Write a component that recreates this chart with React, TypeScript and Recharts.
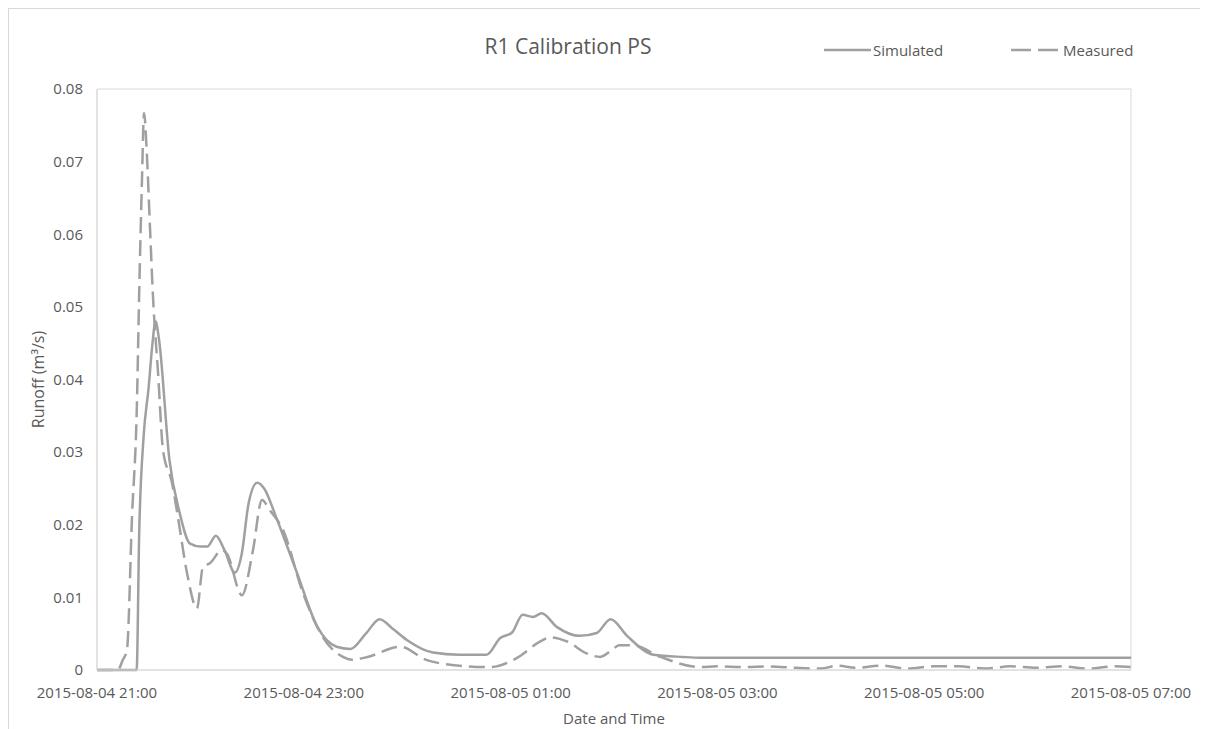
import { Line, LineChart, ReferenceArea, XAxis, YAxis } from "recharts";

// minutes since 2015-08-04 21:00
const xTicks = [0, 120, 240, 360, 480, 600];
const xTickLabels = [
  "2015-08-04 21:00",
  "2015-08-04 23:00",
  "2015-08-05 01:00",
  "2015-08-05 03:00",
  "2015-08-05 05:00",
  "2015-08-05 07:00",
];
const yTicks = [0, 0.01, 0.02, 0.03, 0.04, 0.05, 0.06, 0.07, 0.08];

const simulatedMinutes = [
  0, 23, 24.5, 27, 30, 32, 34, 36, 42, 48, 54, 60, 64, 69, 74, 80, 84, 88, 93,
  97, 104, 116, 128, 139, 147, 156, 164, 172, 180, 195, 210, 226, 234, 241,
  247, 253, 258, 267, 280, 290, 298, 308, 323, 340, 350, 600,
];
const simulatedRunoff = [
  0, 0, 0.019, 0.032, 0.039, 0.0445, 0.048, 0.0455, 0.029, 0.0216, 0.0174,
  0.017, 0.017, 0.0185, 0.0165, 0.0134, 0.016, 0.023, 0.0258, 0.025, 0.021,
  0.0134, 0.0059, 0.0032, 0.0029, 0.005, 0.007, 0.0056, 0.0041, 0.0024,
  0.0021, 0.0021, 0.0044, 0.0052, 0.0076, 0.0073, 0.0078, 0.0059, 0.0047,
  0.0051, 0.007, 0.0046, 0.0021, 0.0018, 0.0017, 0.0017,
];

const measuredMinutes = [
  0, 12, 15, 17.4, 20.3, 23.2, 24.4, 26.1, 27.3, 29, 30.8, 32.5, 35.4, 38.3,
  43.5, 47, 52.2, 58, 61.5, 65.5, 72.5, 75.4, 84.1, 90.5, 95.7, 100.3, 107.9,
  119.5, 131.1, 142.7, 148, 157, 176, 191, 206, 228, 244, 257, 263, 273, 284,
  292, 299, 303, 311, 327, 350, 360, 375, 390, 405, 420, 430, 440, 455, 470,
  485, 500, 515, 530, 545, 560, 575, 590, 600,
];
const measuredRunoff = [
  0, 0, 0.0014, 0.0028, 0.021, 0.037, 0.051, 0.0675, 0.0767, 0.0707, 0.0606,
  0.0514, 0.041, 0.0303, 0.0258, 0.021, 0.0134, 0.0085, 0.0142, 0.0147,
  0.0165, 0.016, 0.0103, 0.0165, 0.0234, 0.022, 0.0193, 0.0106, 0.0045,
  0.0018, 0.0014, 0.0018, 0.0032, 0.0014, 0.0007, 0.0004, 0.0017, 0.0039,
  0.0045, 0.0039, 0.0023, 0.0018, 0.0028, 0.0034, 0.0034, 0.0018, 0.0004,
  0.0005, 0.0004, 0.0005, 0.0003, 0.0002, 0.0006, 0.0003, 0.0006, 0.0002,
  0.0005, 0.0005, 0.0002, 0.0005, 0.0003, 0.0005, 0.0002, 0.0005, 0.0004,
];

const simulatedData = simulatedMinutes.map((t, i) => ({
  t,
  value: simulatedRunoff[i],
}));
const measuredData = measuredMinutes.map((t, i) => ({
  t,
  value: measuredRunoff[i],
}));

const FONT = '"Open Sans", sans-serif';
const TEXT = "#595959";
const LINE = "#a0a0a0";

function LegendItem({
  left,
  label,
  dashed,
}: {
  left: number;
  label: string;
  dashed?: boolean;
}) {
  return (
    <div
      style={{
        position: "absolute",
        left,
        top: 31,
        height: 20,
        display: "flex",
        alignItems: "center",
        fontFamily: FONT,
        fontSize: 15,
        color: TEXT,
        whiteSpace: "nowrap",
      }}
    >
      <svg width={47} height={6}>
        <line
          x1={0}
          y1={3}
          x2={47}
          y2={3}
          stroke={LINE}
          strokeWidth={2.5}
          strokeDasharray={dashed ? "20 7" : undefined}
        />
      </svg>
      <span style={{ marginLeft: dashed ? 5 : 2 }}>{label}</span>
    </div>
  );
}

export default function App() {
  return (
    <div
      style={{
        position: "relative",
        width: 1200,
        height: 740,
        border: "1px solid #d9d9d9",
        boxSizing: "border-box",
        background: "#fff",
      }}
    >
      <div
        style={{
          position: "absolute",
          left: 359,
          width: 400,
          top: 27,
          textAlign: "center",
          fontFamily: FONT,
          fontSize: 21,
          lineHeight: 1,
          color: TEXT,
        }}
      >
        R1 Calibration PS
      </div>
      <LegendItem left={815} label="Simulated" />
      <LegendItem left={1002} label="Measured" dashed />
      <LineChart
        width={1190}
        height={719}
        margin={{ top: 80, right: 68, left: 0, bottom: 0 }}
      >
        <XAxis
          type="number"
          dataKey="t"
          domain={[0, 600]}
          ticks={xTicks}
          tickFormatter={(v) => xTickLabels[xTicks.indexOf(v)] ?? ""}
          allowDuplicatedCategory={false}
          height={58}
          tickLine={false}
          tickSize={0}
          tickMargin={17}
          axisLine={{ stroke: "#d9d9d9" }}
          tick={{ fill: TEXT, fontSize: 15, fontFamily: FONT }}
          label={{
            value: "Date and Time",
            position: "insideBottom",
            offset: 4.5,
            style: { fill: TEXT, fontSize: 15, fontFamily: FONT },
          }}
        />
        <YAxis
          type="number"
          domain={[0, 0.08]}
          ticks={yTicks}
          width={88}
          tickLine={false}
          tickSize={0}
          tickMargin={14}
          axisLine={{ stroke: "#d9d9d9" }}
          tick={{ fill: TEXT, fontSize: 15, fontFamily: FONT }}
          label={{
            value: "Runoff (m³/s)",
            angle: -90,
            position: "insideLeft",
            offset: 29,
            style: {
              fill: TEXT,
              fontSize: 16,
              fontFamily: FONT,
              textAnchor: "middle",
            },
          }}
        />
        <ReferenceArea
          x1={0}
          x2={600}
          y1={0}
          y2={0.08}
          fill="none"
          stroke="#d9d9d9"
          strokeWidth={1}
        />
        <Line
          data={simulatedData}
          dataKey="value"
          type="monotone"
          stroke={LINE}
          strokeWidth={2.5}
          dot={false}
          isAnimationActive={false}
        />
        <Line
          data={measuredData}
          dataKey="value"
          type="monotone"
          stroke={LINE}
          strokeWidth={2.5}
          strokeDasharray="16 7"
          dot={false}
          isAnimationActive={false}
        />
      </LineChart>
    </div>
  );
}
